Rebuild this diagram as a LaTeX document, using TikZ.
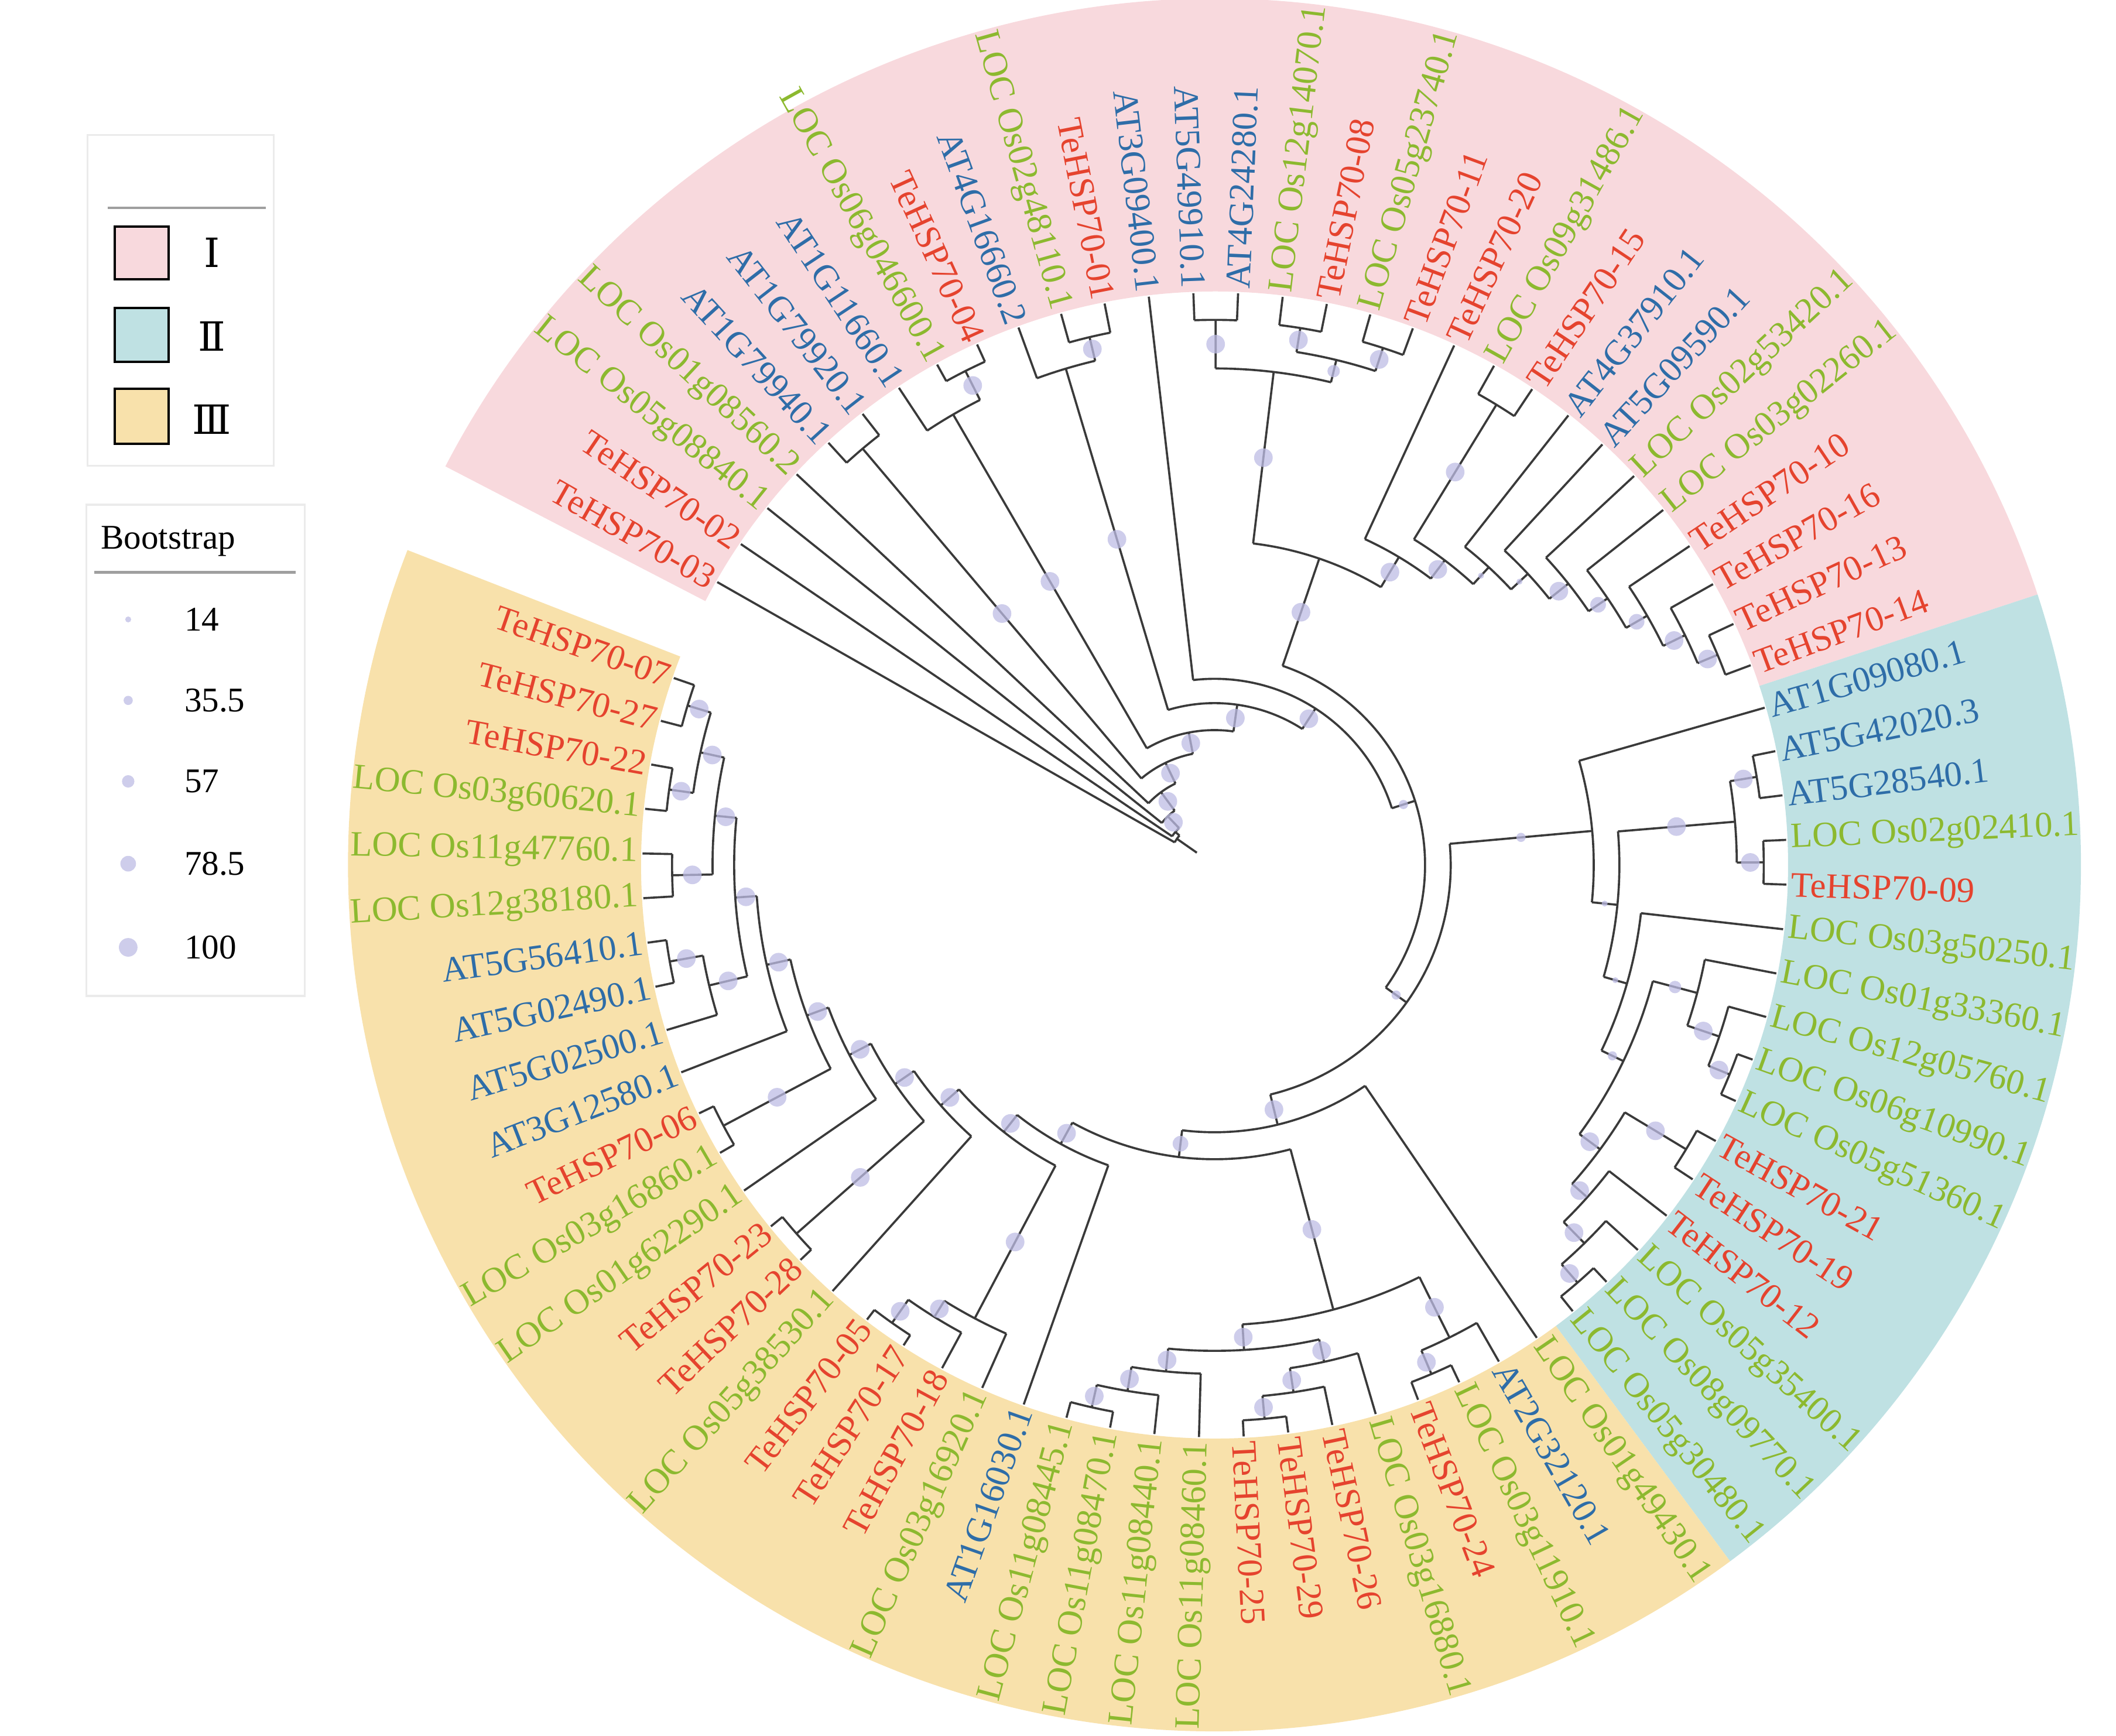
\documentclass[tikz,border=0pt]{standalone}
\usepackage{fontspec}
\setmainfont{Liberation Serif}
\newfontfamily\romfont{DejaVu Serif}
\usepackage{tikz}
\usetikzlibrary{positioning}

\definecolor{ringI}{HTML}{F8D9DD}
\definecolor{ringII}{HTML}{BFE1E3}
\definecolor{ringIII}{HTML}{F8E1AB}
\definecolor{te}{HTML}{E5432E}
\definecolor{at}{HTML}{2E6DA8}
\definecolor{loc}{HTML}{8CB92F}
\definecolor{bootcol}{HTML}{BDBCE4}
\definecolor{branchcol}{HTML}{3A3A3A}

\tikzset{
  branch/.style={draw=branchcol, line width=0.45pt},
  bootdot/.style={fill=bootcol, fill opacity=0.75},
  leaflabel/.style={font=\fontsize{7.5}{8}\selectfont, inner sep=0pt},
  legendbox/.style={draw=black!8, line width=0.4pt},
  legendline/.style={draw=gray!75, line width=0.6pt},
  swatch/.style={draw=black, line width=0.5pt},
  legendtext/.style={font=\fontsize{7.3}{8}\selectfont, inner sep=0pt}
}

% internal node: parent radius, radius, angle, arc from, arc to, bootstrap dot
\newcommand{\clade}[6]{%
  \draw[branch] (#3:#1) -- (#3:#2);
  \draw[branch] (#4:#2) arc[start angle=#4, end angle=#5, radius=#2];
  \fill[bootdot] (#3:{(#1+#2)/2}) circle (#6);
}

\begin{document}
\begin{tikzpicture}
\useasboundingbox (-9.00,-6.45) rectangle (6.68,6.41);
% Parameters
\def\rin{4.25}
\def\rout{6.42}
\def\tip{4.24}
\def\bsbig{0.069}
\def\bsmid{0.058}
\def\bsmed{0.046}
\def\bslow{0.034}
\def\bstiny{0.022}

% Group rings
\fill[ringI] (152.6:\rin) arc[start angle=152.6, end angle=18.2, radius=\rin]
  -- (18.2:\rout) arc[start angle=18.2, end angle=152.6, radius=\rout] -- cycle;
\fill[ringII] (18.2:\rin) arc[start angle=18.2, end angle=-53.48, radius=\rin]
  -- (-53.48:\rout) arc[start angle=-53.48, end angle=18.2, radius=\rout] -- cycle;
\fill[ringIII] (-53.48:\rin) arc[start angle=-53.48, end angle=-201.32, radius=\rin]
  -- (-201.32:\rout) arc[start angle=-201.32, end angle=-53.48, radius=\rout] -- cycle;

% Backbone
\clade{0.16}{0.34}{145.11}{150.36}{139.86}{0}
\clade{0.34}{0.38}{139.86}{145.88}{133.84}{0}
\clade{0.38}{0.50}{133.84}{141.40}{126.27}{\bsbig}
\clade{0.50}{0.67}{126.27}{136.92}{115.62}{\bsbig}
\clade{0.67}{0.84}{115.62}{130.20}{101.03}{\bsbig}
\clade{0.84}{1.00}{101.03}{120.12}{81.94}{\bsbig}
\clade{1.00}{1.20}{81.94}{106.68}{57.19}{\bsbig}
\clade{1.20}{1.38}{57.19}{96.60}{17.77}{\bsbig}
\clade{1.38}{1.56}{17.77}{71.13}{-35.59}{\bslow}
\clade{1.56}{1.75}{-35.59}{5.16}{-76.34}{\bslow}
\clade{1.75}{1.98}{-76.34}{-55.72}{-96.97}{\bsbig}
\clade{1.98}{2.18}{-96.97}{-75.04}{-118.89}{\bsmid}

% Group I, left part
\clade{0.84}{4.04}{130.20}{132.44}{127.96}{\bsbig}
\clade{1.00}{3.86}{120.12}{123.48}{116.76}{\bsbig}
\clade{3.86}{4.10}{116.76}{119.00}{114.52}{\bsbig}
\clade{1.20}{3.84}{106.68}{110.04}{103.32}{\bsbig}
\clade{3.84}{4.02}{103.32}{105.56}{101.08}{\bsbig}

% Group I, right part
\clade{1.56}{2.40}{71.13}{83.16}{59.09}{\bsbig}
\clade{2.40}{3.68}{83.16}{89.88}{76.44}{\bsbig}
\clade{3.68}{4.04}{89.88}{92.12}{87.64}{\bsbig}
\clade{3.68}{3.85}{76.44}{80.92}{71.96}{\bsmed}
\clade{3.85}{4.03}{80.92}{83.16}{78.68}{\bsbig}
\clade{3.85}{4.03}{71.96}{74.20}{69.72}{\bsbig}
\clade{2.40}{2.66}{59.09}{65.24}{52.94}{\bsbig}
\clade{2.66}{2.83}{52.94}{58.52}{47.36}{\bsbig}
\clade{2.83}{4.00}{58.52}{60.76}{56.28}{\bsbig}
\clade{2.83}{3.00}{47.36}{51.80}{42.91}{\bstiny}
\clade{3.00}{3.17}{42.91}{47.32}{38.50}{\bstiny}
\clade{3.17}{3.35}{38.50}{42.84}{34.16}{\bsbig}
\clade{3.35}{3.52}{34.16}{38.36}{29.96}{\bsmid}
\clade{3.52}{3.70}{29.96}{33.88}{26.04}{\bsmid}
\clade{3.70}{3.88}{26.04}{29.40}{22.68}{\bsbig}
\clade{3.88}{4.04}{22.68}{24.92}{20.44}{\bsbig}

% Group II
\clade{1.75}{2.81}{5.16}{15.96}{-5.64}{\bslow}
\clade{2.81}{3.00}{-5.64}{4.76}{-16.03}{\bstiny}
\clade{3.00}{3.87}{4.76}{9.24}{0.28}{\bsbig}
\clade{3.87}{4.07}{9.24}{11.48}{7.00}{\bsbig}
\clade{3.87}{4.07}{0.28}{2.52}{-1.96}{\bsbig}
\clade{3.00}{3.18}{-16.03}{-6.44}{-25.62}{\bstiny}
\clade{3.18}{3.36}{-25.62}{-14.84}{-36.40}{\bslow}
\clade{3.36}{3.70}{-14.84}{-10.92}{-18.76}{\bsmed}
\clade{3.70}{3.95}{-18.76}{-15.40}{-22.12}{\bsbig}
\clade{3.95}{4.12}{-22.12}{-19.88}{-24.36}{\bsbig}
\clade{3.36}{3.55}{-36.40}{-31.08}{-41.72}{\bsbig}
\clade{3.55}{4.08}{-31.08}{-28.84}{-33.32}{\bsbig}
\clade{3.55}{3.70}{-41.72}{-37.80}{-45.64}{\bsbig}
\clade{3.70}{3.92}{-45.64}{-42.28}{-49.00}{\bsbig}
\clade{3.92}{4.10}{-49.00}{-46.76}{-51.24}{\bsbig}

% Group III
\clade{2.18}{3.41}{-75.04}{-63.56}{-86.52}{\bsbig}
\clade{3.41}{3.91}{-63.56}{-60.20}{-66.92}{\bsbig}
\clade{3.91}{4.10}{-66.92}{-64.68}{-69.16}{\bsbig}
\clade{3.41}{3.60}{-86.52}{-77.56}{-95.48}{\bsbig}
\clade{3.60}{3.77}{-77.56}{-73.64}{-81.48}{\bsbig}
\clade{3.77}{3.95}{-81.48}{-78.12}{-84.84}{\bsbig}
\clade{3.95}{4.12}{-84.84}{-82.60}{-87.08}{\bsbig}
\clade{3.60}{3.77}{-95.48}{-91.56}{-99.40}{\bsbig}
\clade{3.77}{3.95}{-99.40}{-96.04}{-102.76}{\bsbig}
\clade{3.95}{4.12}{-102.76}{-100.52}{-105.00}{\bsbig}
\clade{2.18}{2.36}{-118.89}{-109.48}{-128.30}{\bsbig}
\clade{2.36}{2.52}{-128.30}{-117.88}{-138.72}{\bsbig}
\clade{2.52}{3.80}{-117.88}{-113.96}{-121.80}{\bsbig}
\clade{3.80}{3.94}{-121.80}{-118.44}{-125.16}{\bsbig}
\clade{3.94}{4.15}{-125.16}{-122.92}{-127.40}{\bsbig}
\clade{2.52}{2.70}{-138.72}{-131.88}{-145.57}{\bsbig}
\clade{2.70}{2.87}{-145.57}{-138.60}{-152.53}{\bsbig}
\clade{2.87}{4.13}{-138.60}{-136.36}{-140.84}{\bsbig}
\clade{2.87}{3.05}{-152.53}{-145.32}{-159.74}{\bsbig}
\clade{3.05}{3.22}{-159.74}{-152.04}{-167.44}{\bsbig}
\clade{3.22}{4.12}{-152.04}{-149.80}{-154.28}{\bsbig}
\clade{3.22}{3.40}{-167.44}{-158.76}{-176.12}{\bsbig}
\clade{3.40}{3.56}{-176.12}{-166.60}{-185.64}{\bsbig}
\clade{3.56}{3.85}{-166.60}{-163.24}{-169.96}{\bsbig}
\clade{3.85}{4.10}{-169.96}{-167.72}{-172.20}{\bsbig}
\clade{3.56}{3.72}{-185.64}{-178.92}{-192.36}{\bsbig}
\clade{3.72}{4.02}{-178.92}{-176.68}{-181.16}{\bsbig}
\clade{3.72}{3.90}{-192.36}{-187.88}{-196.84}{\bsbig}
\clade{3.90}{4.08}{-187.88}{-185.64}{-190.12}{\bsbig}
\clade{3.90}{4.08}{-196.84}{-194.60}{-199.08}{\bsbig}

% Leaves and labels
\foreach \i/\pr/\txt/\col in {
  1/0.34/TeHSP70-03/te, 2/0.38/TeHSP70-02/te,
  3/0.50/LOC Os05g08840.1/loc, 4/0.67/LOC Os01g08560.2/loc,
  5/4.04/AT1G79940.1/at, 6/4.04/AT1G79920.1/at,
  7/3.86/AT1G11660.1/at, 8/4.10/LOC Os06g046600.1/loc,
  9/4.10/TeHSP70-04/te, 10/3.84/AT4G16660.2/at,
  11/4.02/LOC Os02g48110.1/loc, 12/4.02/TeHSP70-01/te,
  13/1.38/AT3G09400.1/at, 14/4.04/AT5G49910.1/at,
  15/4.04/AT4G24280.1/at, 16/4.03/LOC Os12g14070.1/loc,
  17/4.03/TeHSP70-08/te, 18/4.03/LOC Os05g23740.1/loc,
  19/4.03/TeHSP70-11/te, 20/2.66/TeHSP70-20/te,
  21/4.00/LOC Os09g31486.1/loc, 22/4.00/TeHSP70-15/te,
  23/3.00/AT4G37910.1/at, 24/3.17/AT5G09590.1/at,
  25/3.35/LOC Os02g53420.1/loc, 26/3.52/LOC Os03g02260.1/loc,
  27/3.70/TeHSP70-10/te, 28/3.88/TeHSP70-16/te,
  29/4.04/TeHSP70-13/te, 30/4.04/TeHSP70-14/te,
  31/2.81/AT1G09080.1/at, 32/4.07/AT5G42020.3/at,
  33/4.07/AT5G28540.1/at, 34/4.07/LOC Os02g02410.1/loc,
  35/4.07/TeHSP70-09/te, 36/3.18/LOC Os03g50250.1/loc,
  37/3.70/LOC Os01g33360.1/loc, 38/3.95/LOC Os12g05760.1/loc,
  39/4.12/LOC Os06g10990.1/loc, 40/4.12/LOC Os05g51360.1/loc,
  41/4.08/TeHSP70-21/te, 42/4.08/TeHSP70-19/te,
  43/3.70/TeHSP70-12/te, 44/3.92/LOC Os05g35400.1/loc,
  45/4.10/LOC Os08g09770.1/loc, 46/4.10/LOC Os05g30480.1/loc,
  47/1.98/LOC Os01g49430.1/loc, 48/3.91/AT2G32120.1/at,
  49/4.10/LOC Os03g11910.1/loc, 50/4.10/TeHSP70-24/te,
  51/3.77/LOC Os03g16880.1/loc, 52/3.95/TeHSP70-26/te,
  53/4.12/TeHSP70-29/te, 54/4.12/TeHSP70-25/te,
  55/3.77/LOC Os11g08460.1/loc, 56/3.95/LOC Os11g08440.1/loc,
  57/4.12/LOC Os11g08470.1/loc, 58/4.12/LOC Os11g08445.1/loc,
  59/2.36/AT1G16030.1/at, 60/3.80/LOC Os03g16920.1/loc,
  61/3.94/TeHSP70-18/te, 62/4.15/TeHSP70-17/te,
  63/4.15/TeHSP70-05/te, 64/2.70/LOC Os05g38530.1/loc,
  65/4.13/TeHSP70-28/te, 66/4.13/TeHSP70-23/te,
  67/3.05/LOC Os01g62290.1/loc, 68/4.12/LOC Os03g16860.1/loc,
  69/4.12/TeHSP70-06/te, 70/3.40/AT3G12580.1/at,
  71/3.85/AT5G02500.1/at, 72/4.10/AT5G02490.1/at,
  73/4.10/AT5G56410.1/at, 74/4.02/LOC Os12g38180.1/loc,
  75/4.02/LOC Os11g47760.1/loc, 76/4.08/LOC Os03g60620.1/loc,
  77/4.08/TeHSP70-22/te, 78/4.08/TeHSP70-27/te,
  79/4.08/TeHSP70-07/te} {
  \pgfmathsetmacro\a{154.84-4.48*\i}
  \draw[branch] (\a:\pr) -- (\a:\tip);
  \pgfmathsetmacro\cosa{cos(\a)}
  \ifdim\cosa pt<0pt
    \pgfmathsetmacro\rt{\a+180}
    \node[leaflabel, text=\col, rotate=\rt, anchor=east] (leaf\i) at (\a:4.27) {\txt};
  \else
    \node[leaflabel, text=\col, rotate=\a, anchor=west] (leaf\i) at (\a:4.27) {\txt};
  \fi
}

% Legend: groups
\draw[legendbox] (-8.35,5.41) rectangle (-6.97,2.96);
\draw[legendline] (-8.20,4.87) -- (-7.03,4.87);
\filldraw[swatch, fill=ringI] (-8.15,4.73) rectangle (-7.75,4.34);
\filldraw[swatch, fill=ringII] (-8.15,4.13) rectangle (-7.75,3.73);
\filldraw[swatch, fill=ringIII] (-8.15,3.53) rectangle (-7.75,3.12);
\node[font=\romfont\fontsize{8.5}{9}\selectfont] (grpI) at (-7.43,4.54) {Ⅰ};
\node[font=\romfont\fontsize{8.5}{9}\selectfont] (grpII) at (-7.43,3.92) {Ⅱ};
\node[font=\romfont\fontsize{8.5}{9}\selectfont] (grpIII) at (-7.43,3.30) {Ⅲ};

% Legend: bootstrap
\draw[legendbox] (-8.36,2.67) rectangle (-6.74,-0.97);
\node[legendtext, anchor=west] (boottitle) at (-8.26,2.40) {Bootstrap};
\draw[legendline] (-8.30,2.17) -- (-6.81,2.17);
\foreach \y/\r/\v in {1.82/\bstiny/14, 1.22/\bslow/35.5, 0.62/\bsmed/57,
                      0.01/\bsmid/78.5, -0.61/\bsbig/100} {
  \fill[bootdot] (-8.05,\y) circle (\r);
  \node[legendtext, anchor=west] (boot\v) at (-7.64,\y) {\v};
}
\end{tikzpicture}
\end{document}
